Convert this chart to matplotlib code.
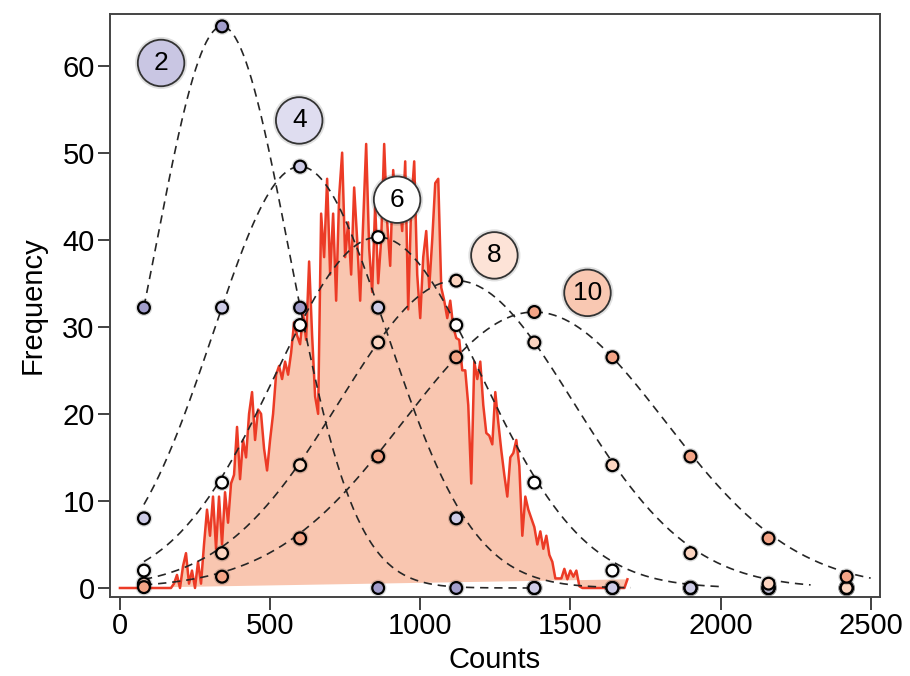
import numpy as np
import matplotlib
matplotlib.use("Agg")
import matplotlib.pyplot as plt
import matplotlib.patheffects as pe

plt.rcParams['font.family'] = ['Liberation Sans', 'DejaVu Sans']

# measured histogram of counts (bin every 10 counts)
hist_x = list(range(0, 1700, 10))
hist_y = [0, 0, 0, 0, 0, 0, 0, 0, 0, 0,
          0, 0, 0, 0, 0, 0, 0, 0, 0.5, 1.5,
          0, 2.5, 4, 0.5, 2, 0, 3, 0.5, 5, 9,
          6, 10.5, 4.5, 10.5, 5, 11, 7.5, 12, 13, 18.5,
          12.5, 17, 15, 20, 22.5, 17, 20.5, 20, 16, 13.5,
          17, 20, 24.5, 25.5, 24, 26, 24.5, 27, 30.5, 29,
          28, 31.5, 28.5, 37.5, 29, 22, 20, 43, 38, 47,
          36, 43, 33, 45, 50, 38, 42, 36, 46, 40,
          33, 42, 51, 39, 34, 44, 35, 40, 51, 42,
          37, 48, 43, 45, 41, 49, 32, 44, 49, 36,
          31, 38, 41, 34.5, 40, 46.5, 47, 34.5, 33, 31,
          33, 30, 28.7, 28.5, 25, 25, 21, 12, 26, 24,
          26, 21, 17.8, 17.5, 16.5, 22.5, 19, 15.8, 13, 10.5,
          15, 15.5, 17, 14, 6, 10.5, 9, 8, 7, 5,
          6.5, 4.5, 6, 3.8, 3, 1.1, 1.1, 1.1, 2.2, 1,
          2, 1.3, 2, 0.2, 0, 0, 0, 0, 0, 0,
          0, 0, 0, 0, 0, 0, 0, 0, 0, 1]

# model points
point_x = [80, 340, 600, 860, 1120, 1380, 1640, 1900, 2160, 2420]
orders = [2, 4, 6, 8, 10]
point_y = {
    2: [32.2, 64.5, 32.2, 0, 0, 0, 0, 0, 0, 0],
    4: [8.0, 32.2, 48.4, 32.2, 8.0, 0, 0, 0, 0, 0],
    6: [2.0, 12.1, 30.2, 40.3, 30.2, 12.1, 2.0, 0, 0, 0],
    8: [0.5, 4.0, 14.1, 28.2, 35.3, 28.2, 14.1, 4.0, 0.5, 0],
    10: [0.1, 1.3, 5.7, 15.1, 26.5, 31.7, 26.5, 15.1, 5.7, 1.3],
}
# gaussian fits drawn as dashed curves
fit_peak = {2: 64.5, 4: 48.4, 6: 40.3, 8: 35.3, 10: 31.7}
fit_center = {2: 340, 4: 600, 6: 860, 8: 1120, 10: 1380}
fit_sigma = {2: 221, 4: 289, 6: 343, 8: 389, 10: 434}
fit_end = {2: 1400, 4: 1700, 6: 2000, 8: 2300, 10: 2500}

marker_color = {2: '#a19dcb', 4: '#cdcbe6', 6: '#ffffff', 8: '#fcd5c1', 10: '#f3a486'}
label_color = {2: '#c9c6e3', 4: '#dfddf0', 6: '#ffffff', 8: '#fde3d7', 10: '#f9c8b2'}
label_pos = {2: (137, 60.3), 4: (597, 53.7), 6: (923, 44.6), 8: (1247, 38.2), 10: (1557, 33.9)}
marker_z = {2: 5, 6: 6, 4: 7, 8: 8, 10: 9}

fig = plt.figure(figsize=(9.1, 6.76), dpi=100)
ax = fig.add_axes([0.1209, 0.1173, 0.967 - 0.1209, 0.9796 - 0.1173])

ax.fill(hist_x, hist_y, color='#f9c6b0', lw=0, zorder=1)
ax.plot(hist_x, hist_y, color='#ec3b26', lw=1.8, zorder=2)

glow = [pe.withStroke(linewidth=3.5, foreground=(0, 0, 0, 0.15))]
for n in orders:
    xs = np.linspace(point_x[0], fit_end[n], 300)
    ys = fit_peak[n] * np.exp(-(xs - fit_center[n]) ** 2 / (2 * fit_sigma[n] ** 2))
    ax.plot(xs, ys, color='#262626', lw=1.2, dashes=(5, 3.5), zorder=3)

for n in orders:
    ax.plot(point_x, point_y[n], ls='none', marker='o', ms=8.5, mfc=marker_color[n],
            mec='black', mew=1.6, zorder=marker_z[n], path_effects=glow)

for n in orders:
    lx, ly = label_pos[n]
    ax.plot([lx], [ly], ls='none', marker='o', ms=33.5, mfc=label_color[n], mec='#333333',
            mew=1.3, zorder=10, path_effects=[pe.withStroke(linewidth=4, foreground=(0, 0, 0, 0.12))])
    ax.text(lx, ly, str(n), ha='center', va='center', fontsize=19, color='black', zorder=11)

ax.set_xlim(-33, 2531)
ax.set_ylim(-1.0, 65.95)
ax.set_xticks([0, 500, 1000, 1500, 2000, 2500])
ax.set_yticks([0, 10, 20, 30, 40, 50, 60])
ax.tick_params(direction='out', length=9, width=1.3, labelsize=21, colors='#333333',
               labelcolor='black', pad=2)
for s in ax.spines.values():
    s.set_color('#444444')
    s.set_linewidth(1.4)
ax.set_xlabel('Counts', fontsize=21, labelpad=4)
ax.set_ylabel('Frequency', fontsize=21, labelpad=11)

fig.savefig('out.png', dpi=100)
